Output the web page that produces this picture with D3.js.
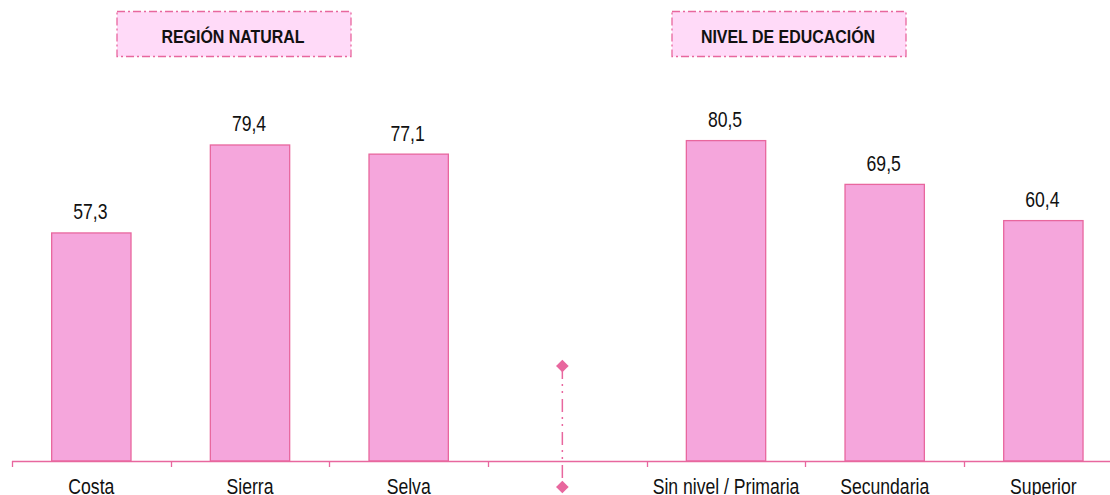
<!DOCTYPE html>
<html><head><meta charset="utf-8">
<script src="https://cdn.jsdelivr.net/npm/d3@7"></script>
<style>body{margin:0;background:#fff}svg{display:block;font-family:"Liberation Sans",Arial,sans-serif}</style>
</head><body><svg id="c" width="1110" height="495"></svg>
<script>
const categories = ["Costa","Sierra","Selva","","Sin nivel / Primaria","Secundaria","Superior"];
const values = [57.3,79.4,77.1,null,80.5,69.5,60.4];
const groupTitles = ["REGIÓN NATURAL","NIVEL DE EDUCACIÓN"];

const svg = d3.select("#c");
const pink = "#e8679e", fill = "#f5a6dc";
const x = d3.scaleBand().domain(categories.map((d,i)=>i)).range([12,1122.7]).paddingInner(0.5).paddingOuter(0.25);
const y = d3.scaleLinear().domain([0,100]).range([461,63]);
const x0 = 12, step = x.step();
const headerLeft = [117, 672];

function label(g, tx, ty, txt, size, bold, sx){
  return g.append("text").attr("transform",`translate(${tx},${ty}) scale(${sx},1)`)
    .attr("text-anchor","middle").attr("font-size",size).attr("font-weight",bold?"bold":"normal")
    .attr("fill","#111").text(txt);
}

const data = categories.map((c,i)=>({c,i,v:values[i]})).filter(d=>d.v!=null);
svg.selectAll("rect.bar").data(data).join("rect").attr("class","bar")
  .attr("x",d=>x(d.i)).attr("width",x.bandwidth())
  .attr("y",d=>y(d.v)).attr("height",d=>y(0)-y(d.v))
  .attr("fill",fill).attr("stroke",pink).attr("stroke-width",1.3);

data.forEach(d=>label(svg, x(d.i)+x.bandwidth()/2-1, y(d.v)-13.5, d.v.toFixed(1).replace(".",","), 22, false, 0.8));

// axis
svg.append("line").attr("x1",x0).attr("x2",1110).attr("y1",461.5).attr("y2",461.5).attr("stroke",pink).attr("stroke-width",1.5);
categories.forEach((c,i)=>{
  const tx = Math.round(x0+i*step)+0.5;
  svg.append("line").attr("x1",tx).attr("x2",tx).attr("y1",461).attr("y2",467).attr("stroke",pink).attr("stroke-width",1.3);
  if(c) label(svg, x0+(i+0.5)*step, 494, c, 22, false, 0.8);
});

// divider
const dx = x0+3.5*step-5;
svg.append("line").attr("x1",dx).attr("x2",dx).attr("y1",366).attr("y2",487)
  .attr("stroke",pink).attr("stroke-width",1.5).attr("stroke-dasharray","13,5,2,5,2,6");
[366,487].forEach(yy=>{
  svg.append("path").attr("d",d3.symbol(d3.symbolSquare,80)()).attr("transform",`translate(${dx},${yy}) rotate(45)`).attr("fill",pink);
});

// group headers
groupTitles.forEach((t,k)=>{
  const left = headerLeft[k];
  svg.append("rect").attr("x",left).attr("y",11.5).attr("width",234).attr("height",45)
    .attr("fill","#ffdaf8").attr("stroke",pink).attr("stroke-width",1.3).attr("stroke-dasharray","8,3,2,3");
  label(svg, left+116, 43, t, 19, true, 0.84);
});
</script></body></html>
